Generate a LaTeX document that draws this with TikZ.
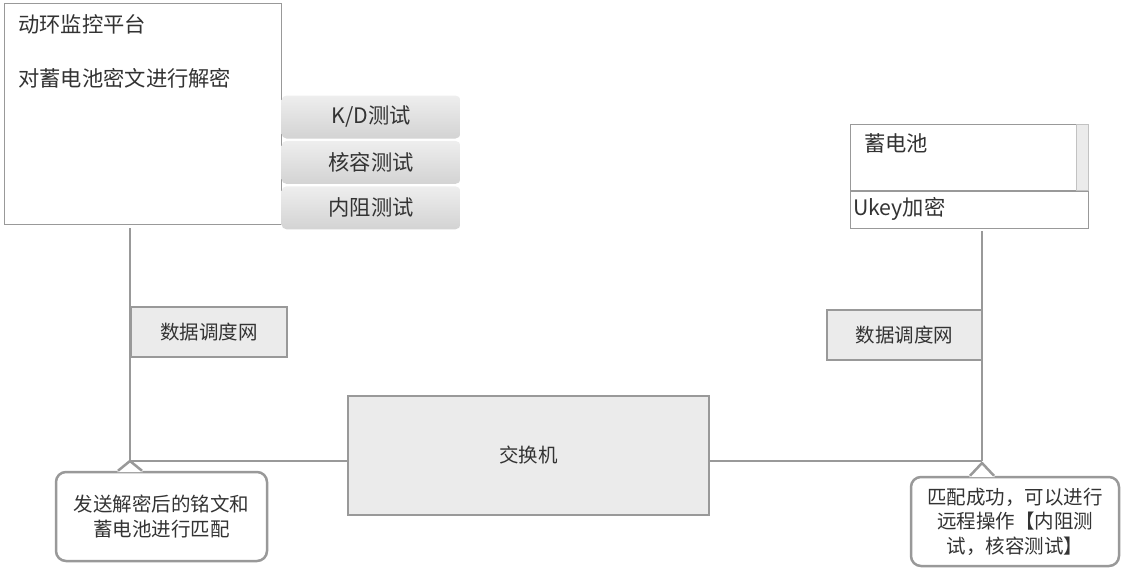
\documentclass[tikz,border=0pt]{standalone}
\usepackage{fontspec}
\setmainfont{Noto Sans CJK SC}
\usetikzlibrary{positioning,calc}
\definecolor{rim}{HTML}{999999}
\definecolor{panel}{HTML}{EBEBEB}
\definecolor{ink}{HTML}{333333}
\definecolor{btntop}{HTML}{EEEEEE}
\definecolor{btnbot}{HTML}{D3D3D3}
\def\Platform{动环监控平台}
\def\Decrypt{对蓄电池密文进行解密}
\def\KD{K/D测试}
\def\Capacity{核容测试}
\def\Resistance{内阻测试}
\def\Battery{蓄电池}
\def\Ukey{Ukey加密}
\def\Network{数据调度网}
\def\Switch{交换机}
\def\SendNote{发送解密后的铭文和\\蓄电池进行匹配}
\def\MatchNote{匹配成功，可以进行\\远程操作【内阻测\\试，核容测试】}
\newcommand{\wire}[2]{\draw[wire] (#1) -- (#2)}
\newcommand{\pointer}[2]{%
    \fill[white] ($(#1 |- #2.north)+(-13,1.4)$) -- (#1) -- ($(#1 |- #2.north)+(13,1.4)$) -- cycle;
    \draw[noteline] ($(#1 |- #2.north)+(-12,0)$) -- (#1) -- ($(#1 |- #2.north)+(12,0)$)}

\begin{document}
\begin{tikzpicture}[x=1pt, y=-1pt,
                    font=\fontsize{19.5}{24.5}\selectfont,
                    text=ink,
                    large/.style={font=\fontsize{21.3}{26}\selectfont},
                    wire/.style={draw=rim, line width=1.2pt},
                    platformbox/.style={
                        draw=rim, line width=1.2pt, fill=white,
                        inner sep=0pt, anchor=north west
                    },
                    plain/.style={large, anchor=west, inner sep=0pt},
                    testbtn/.style={
                        large, shade, top color=btntop, bottom color=btnbot,
                        rounded corners=5pt, inner sep=0pt,
                        minimum width=179, minimum height=43
                    },
                    cellbox/.style={
                        draw=rim, line width=1pt, fill=white,
                        inner sep=0pt, anchor=north west
                    },
                    netbox/.style={
                        draw=rim, line width=2.5pt, fill=panel,
                        inner sep=0pt, minimum height=50
                    },
                    switchbox/.style={
                        draw=rim, line width=2.5pt, fill=panel,
                        inner sep=0pt, minimum width=361, minimum height=119
                    },
                    noteline/.style={draw=rim, line width=2.5pt, line join=round},
                    notebox/.style={
                        noteline, fill=white, rounded corners=10pt,
                        align=center, inner sep=0pt
                    }]
    \useasboundingbox (0,0) rectangle (1129,574);

    \coordinate (tapL) at (130,228);
    \coordinate (jointL) at (130,461);
    \coordinate (tapR) at (982,231);
    \coordinate (jointR) at (982,461);
    \coordinate (tipR) at (982,463);

    \node[switchbox] (switch) at (528.5,455.5) {\Switch};

    \wire{tapL}{jointL};
    \wire{jointL}{jointL -| switch.west};
    \wire{tapR}{jointR};
    \wire{jointR}{jointR -| switch.east};

    \node[platformbox, minimum width=277, minimum height=221] (platform) at (4,3) {};
    \node[plain] (title) at (18,24) {\Platform};
    \node[plain] (task) at (18,78) {\Decrypt};

    \node[testbtn] (kd) at (371,117) {\KD};
    \node[testbtn, below=2pt of kd] (cap) {\Capacity};
    \node[testbtn, below=2pt of cap] (res) {\Resistance};

    \node[cellbox, minimum width=238, minimum height=66] (cell) at (850,124) {};
    \node[cellbox, minimum width=238, minimum height=37, below=0pt of cell] (ukeybox) {};
    \node[cellbox, draw=rim!60, fill=panel, minimum width=12, minimum height=66,
          anchor=north east] (scroll) at (cell.north east) {};
    \node[plain] (celltext) at (864,143) {\Battery};
    \node[plain] (ukeytext) at (853,209) {\Ukey};

    \node[netbox, minimum width=156] (netL) at (209,332) {\Network};
    \node[netbox, minimum width=155] (netR) at (904.5,335) {\Network};

    \node[notebox, minimum width=211, minimum height=89] (noteL) at (161.5,516.5) {\SendNote};
    \node[notebox, minimum width=208, minimum height=89] (noteR) at (1015,521.5) {\MatchNote};
    \pointer{jointL}{noteL};
    \pointer{tipR}{noteR};
\end{tikzpicture}
\end{document}
